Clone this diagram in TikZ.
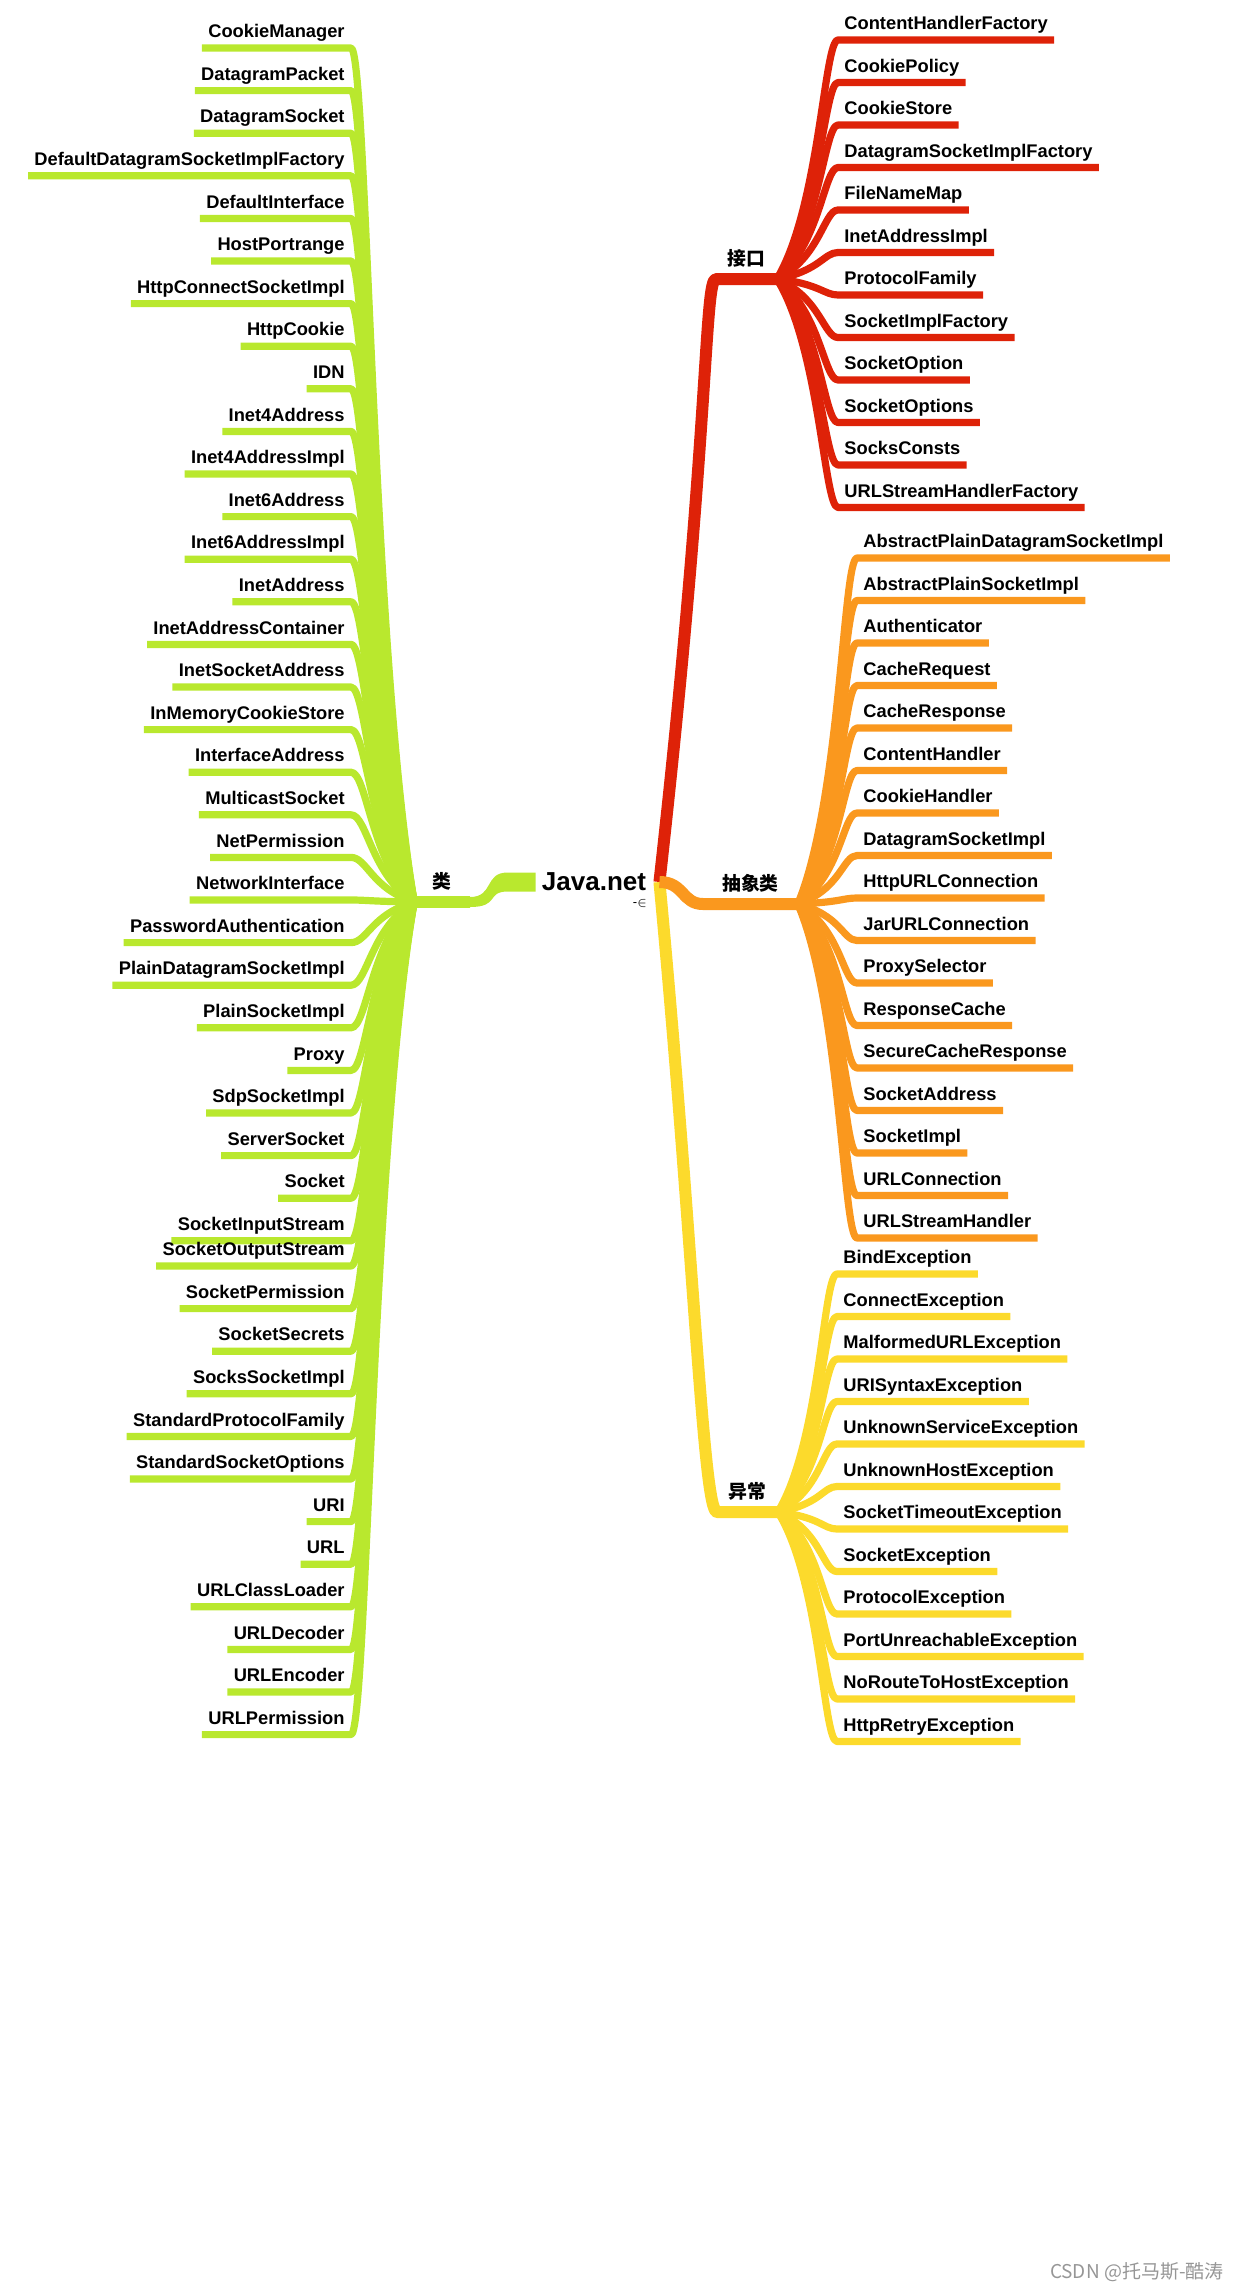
\documentclass[tikz,border=0pt]{standalone}
\usepackage{fontspec}
\setmainfont{Liberation Sans}
\newfontfamily\cjk{Noto Sans CJK SC}
\usetikzlibrary{calc}
\definecolor{clsgreen}{RGB}{185,232,46}
\definecolor{ifcred}{RGB}{222,34,8}
\definecolor{absorange}{RGB}{250,152,30}
\definecolor{excyellow}{RGB}{252,218,44}
\definecolor{wmgray}{RGB}{150,150,150}

\begin{document}
\begin{tikzpicture}[x=0.5pt,y=-0.5pt,line join=round]
\tikzstyle{leaf}=[font=\fontsize{9.15}{11}\selectfont\bfseries,inner xsep=3pt,inner ysep=5pt,text depth=0pt]
\tikzstyle{topic}=[font=\fontsize{9.4}{11}\selectfont\cjk\bfseries,inner xsep=0pt,inner ysep=6.5pt,text depth=0pt]
\tikzstyle{trunk}=[line width=6pt]
\tikzstyle{twig}=[line width=3.6pt]
\useasboundingbox (0,0) rectangle (1237,2292);

\node[font=\fontsize{13}{15}\selectfont\bfseries,inner xsep=3pt] (root) at (594,882) {Java.net};
\node[font=\fontsize{6.5}{7}\selectfont,inner sep=0pt] (fold) at (640,903) {-$\in$};

% the four topics
\node[topic,anchor=south east,minimum width=27.5pt] (cls) at (470,902) {类};
\node[topic,anchor=south west,minimum width=30pt] (ifc) at (716,279) {接口};
\node[topic,anchor=south west,minimum width=47pt] (abs) at (703,904) {抽象类};
\node[topic,anchor=south west,minimum width=30pt] (exc) at (717,1512) {异常};

% green branch gets thinner towards its topic
\fill[clsgreen] ($(root.west)+(0,-9.5)$) -- ++(-28,0) .. controls (484,872.5) and (494,897) .. ($(cls.south east)+(0,-5)$)
  -- ($(cls.south east)+(0,5)$) .. controls (500,907) and (486,891.5) .. ($(root.west)+(-28,9.5)$) -- ($(root.west)+(0,9.5)$) -- cycle;
\draw[trunk,clsgreen] (cls.south east) -- (cls.south west);
\draw[trunk,ifcred] ($(root.east)+(7,0)$) .. controls (710,430) and (704,279) .. (ifc.south west) -- (ifc.south east);
\draw[trunk,excyellow] ($(root.east)+(7,0)$) .. controls (694,1250) and (703,1512) .. (exc.south west) -- (exc.south east);
\draw[trunk,absorange] ($(root.east)+(7,0)$) .. controls (684,882) and (682,904) .. (abs.south west) -- (abs.south east);

% classes
\foreach \name [count=\i] in {CookieManager,DatagramPacket,DatagramSocket,DefaultDatagramSocketImplFactory,DefaultInterface,HostPortrange,HttpConnectSocketImpl,HttpCookie,IDN,Inet4Address,Inet4AddressImpl,Inet6Address,Inet6AddressImpl,InetAddress,InetAddressContainer,InetSocketAddress,InMemoryCookieStore,InterfaceAddress,MulticastSocket,NetPermission,NetworkInterface,PasswordAuthentication,PlainDatagramSocketImpl,PlainSocketImpl,Proxy,SdpSocketImpl,ServerSocket,Socket,SocketInputStream,SocketOutputStream,SocketPermission,SocketSecrets,SocksSocketImpl,StandardProtocolFamily,StandardSocketOptions,URI,URL,URLClassLoader,URLDecoder,URLEncoder,URLPermission}{
  \pgfmathsetmacro\yy{ifthenelse(\i<30,48+42.6*(\i-1),1266+42.6*(\i-30))}
  \node[leaf,anchor=south east] (cls-\i) at (351,\yy) {\name};
  \draw[twig,clsgreen] (cls.south west) .. controls ($(cls.south west)+(-43,{0.3*(\yy-902)})$) and ($(cls-\i.south east)+(16,0)$) .. (cls-\i.south east) -- (cls-\i.south west);
}

% interfaces
\foreach \name [count=\i] in {ContentHandlerFactory,CookiePolicy,CookieStore,DatagramSocketImplFactory,FileNameMap,InetAddressImpl,ProtocolFamily,SocketImplFactory,SocketOption,SocketOptions,SocksConsts,URLStreamHandlerFactory}{
  \pgfmathsetmacro\yy{40+42.5*(\i-1)}
  \node[leaf,anchor=south west] (ifc-\i) at (838,\yy) {\name};
  \draw[twig,ifcred] (ifc.south east) .. controls ($(ifc.south east)+(43,{0.3*(\yy-279)})$) and ($(ifc-\i.south west)+(-14,0)$) .. (ifc-\i.south west) -- (ifc-\i.south east);
}

% abstract classes
\foreach \name [count=\i] in {AbstractPlainDatagramSocketImpl,AbstractPlainSocketImpl,Authenticator,CacheRequest,CacheResponse,ContentHandler,CookieHandler,DatagramSocketImpl,HttpURLConnection,JarURLConnection,ProxySelector,ResponseCache,SecureCacheResponse,SocketAddress,SocketImpl,URLConnection,URLStreamHandler}{
  \pgfmathsetmacro\yy{558+42.5*(\i-1)}
  \node[leaf,anchor=south west] (abs-\i) at (857,\yy) {\name};
  \draw[twig,absorange] (abs.south east) .. controls ($(abs.south east)+(43,{0.3*(\yy-904)})$) and ($(abs-\i.south west)+(-14,0)$) .. (abs-\i.south west) -- (abs-\i.south east);
}

% exceptions
\foreach \name [count=\i] in {BindException,ConnectException,MalformedURLException,URISyntaxException,UnknownServiceException,UnknownHostException,SocketTimeoutException,SocketException,ProtocolException,PortUnreachableException,NoRouteToHostException,HttpRetryException}{
  \pgfmathsetmacro\yy{1274+42.5*(\i-1)}
  \node[leaf,anchor=south west] (exc-\i) at (837,\yy) {\name};
  \draw[twig,excyellow] (exc.south east) .. controls ($(exc.south east)+(43,{0.3*(\yy-1512)})$) and ($(exc-\i.south west)+(-14,0)$) .. (exc-\i.south west) -- (exc-\i.south east);
}

\node[anchor=east,inner sep=0pt,text=wmgray,font=\fontsize{9.5}{11}\selectfont\cjk] (mark) at (1224,2272) {CSDN @托马斯-酷涛};
\end{tikzpicture}
\end{document}
